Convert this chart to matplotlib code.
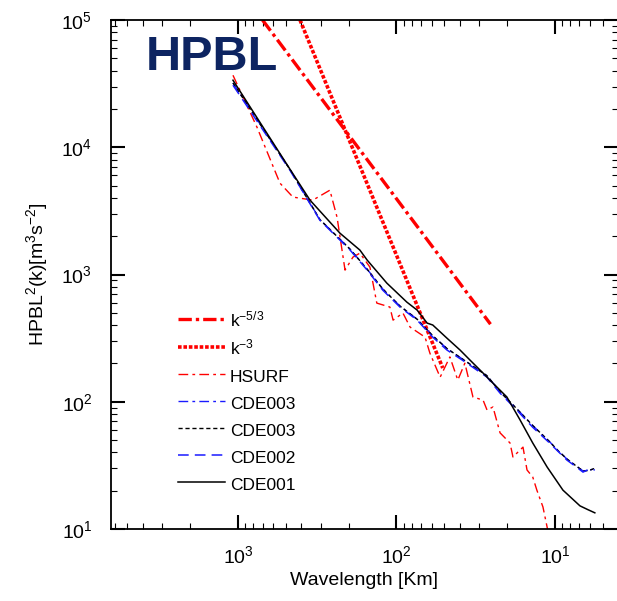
import numpy as np
import matplotlib
matplotlib.use("Agg")
import matplotlib.pyplot as plt

plt.rcParams['font.family'] = ['Liberation Sans', 'DejaVu Sans']
plt.rcParams['mathtext.fontset'] = 'custom'
plt.rcParams['mathtext.rm'] = 'Liberation Sans'
plt.rcParams['mathtext.default'] = 'regular'

# reference slopes (end points)
lam_k53 = [700.0, 25.5]
val_k53 = [1.0e5, 407.0]
lam_k3 = [406.0, 51.0]
val_k3 = [1.0e5, 184.0]

# HSURF spectrum
lam_hsurf = [1075, 759, 543, 450, 337, 263, 237, 211, 188, 170, 147, 133, 110, 105,
             91, 82, 66, 61.5, 53, 46, 41, 37, 32.9, 28.4, 26.8, 24.6, 22.2, 19.2,
             18.4, 15.9, 15.0, 13.8, 13.0, 11.9, 11.1]
val_hsurf = [36800, 14400, 5220, 4060, 3840, 4600, 2820, 1083, 1371, 1472, 1143, 596,
             555, 438, 498, 386, 322, 241, 156, 225, 148, 201, 109, 103, 86, 91, 57,
             47.4, 36.8, 44, 29.1, 25.6, 20.2, 14.9, 9.8]

# CDE002 / CDE003 (blue, nearly identical)
lam_cde002 = [1075, 470, 304, 196, 153, 122, 95, 74, 59, 48, 35.9, 26.8, 22.2, 17.4,
              13.8, 10.8, 9.6, 8.4, 7.4, 6.65, 6.1, 5.6]
val_cde002 = [30750, 6610, 2670, 1555, 1083, 754, 555, 438, 322, 255, 201, 156, 117,
              86, 63, 47.4, 41.0, 34.8, 31.0, 28.0, 29.5, 29.1]
lam_cde003 = [1075, 470, 304, 196, 153, 122, 95, 74, 59, 48, 35.9, 26.8, 22.2, 17.4,
              13.8, 10.8, 9.6, 8.4, 7.4, 6.65, 6.1, 5.6]
val_cde003 = [32000, 6700, 2700, 1580, 1100, 770, 565, 445, 330, 262, 205, 160, 120,
              88, 65, 48.5, 41.5, 35.5, 31.5, 28.6, 28.8, 30.0]

# CDE001 (black solid)
lam_cde001 = [1075, 470, 351, 227, 170, 153, 115, 86, 74, 64, 59, 48, 39.7, 34.4,
              28.4, 24.6, 20.1, 16.6, 13.8, 11.2, 8.9, 6.95, 6.2, 5.6]
val_cde001 = [33650, 6730, 3840, 2110, 1555, 1298, 856, 607, 525, 415, 401, 316, 255,
              213, 168, 140, 109, 72, 47.4, 30.7, 20.2, 15.2, 14.2, 13.4]

red = '#ff0000'
blue = '#1a1aff'

fig = plt.figure(figsize=(6.17, 6.01), dpi=100)
ax = fig.add_axes([0.1799, 0.1198, 0.8217, 0.8469])

ax.plot(lam_k53, val_k53, color=red, lw=2.4, ls=(0, (4, 1.2, 1, 1.2)), label=r'k$^{-5/3}$')
ax.plot(lam_k3, val_k3, color=red, lw=2.6, ls=(0, (1, 0.5)), label=r'k$^{-3}$')
ax.plot(lam_hsurf, val_hsurf, color=red, lw=1.0, ls=(0, (7, 3, 2, 3)), label='HSURF')
ax.plot(lam_cde003, val_cde003, color=blue, lw=1.0, ls=(0, (7, 3, 2, 3)), label='CDE003')
ax.plot(lam_cde003, val_cde003, color='black', lw=1.0, ls=(0, (3, 2)), label='CDE003')
ax.plot(lam_cde002, val_cde002, color=blue, lw=1.1, ls=(0, (7, 4)), label='CDE002')
ax.plot(lam_cde001, val_cde001, color='black', lw=1.1, ls='-', label='CDE001')

ax.set_xscale('log')
ax.set_yscale('log')
ax.set_xlim(6325, 4.0)
ax.set_ylim(10, 1e5)

for s in ax.spines.values():
    s.set_linewidth(1.3)
ax.tick_params(which='both', direction='in', top=True, right=True)
ax.tick_params(which='major', length=10, width=1.5, labelsize=14, pad=13.5)
ax.tick_params(axis='x', which='major', pad=12)
ax.tick_params(which='minor', length=4.5, width=0.8)

ax.set_xlabel('Wavelength [Km]', fontsize=14, labelpad=3)
ax.set_ylabel(r'HPBL$^{2}$(k)[m$^{3}$s$^{-2}$]', fontsize=14, labelpad=8)

ax.text(0.069, 0.902, 'HPBL', transform=ax.transAxes, fontsize=35, fontweight='bold',
        color='#0d2461', va='baseline', ha='left')

ax.legend(loc='upper left', bbox_to_anchor=(0.132, 0.431), frameon=False, fontsize=12.5,
          borderpad=0, borderaxespad=0, handlelength=2.7, handletextpad=0.3,
          handleheight=1.4, labelspacing=0.4)

fig.savefig('out.png', dpi=100)
